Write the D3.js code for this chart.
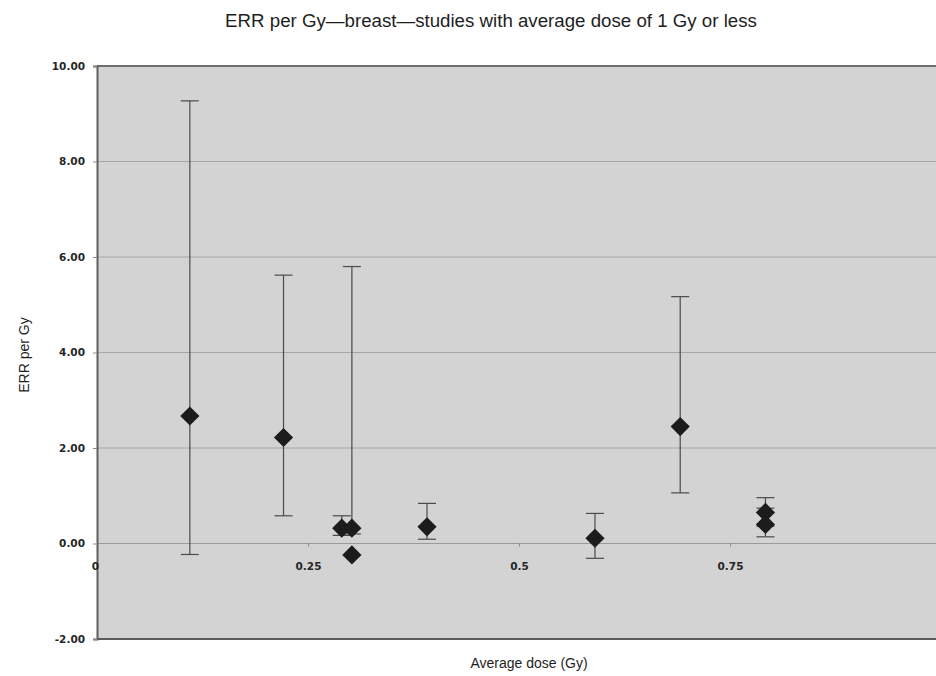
<!DOCTYPE html>
<html>
<head>
<meta charset="utf-8">
<script src="https://cdn.jsdelivr.net/npm/d3@7/dist/d3.min.js"></script>
<style>
  html, body { margin: 0; padding: 0; background: #fff; }
  svg { display: block; }
</style>
</head>
<body>
<svg id="chart" width="936" height="676"></svg>
<script>
// Study average doses (Gy) and excess relative risk per Gy with confidence limits
const doses = [0.110, 0.221, 0.290, 0.302, 0.302, 0.391, 0.590, 0.691, 0.792, 0.792];
const errPerGy = [2.67, 2.22, 0.32, 0.32, -0.24, 0.35, 0.11, 2.45, 0.65, 0.40];
const lowerCI = [-0.23, 0.58, 0.17, 0.20, null, 0.09, -0.31, 1.06, 0.36, 0.14];
const upperCI = [9.27, 5.62, 0.58, 5.80, null, 0.84, 0.63, 5.17, 0.96, 0.74];

const yTicks = [-2, 0, 2, 4, 6, 8, 10];
const xTicks = [0, 0.25, 0.5, 0.75];
const xTickLabels = ["0", "0.25", "0.5", "0.75"];

const titleText = "ERR per Gy\u2014breast\u2014studies with average dose of 1 Gy or less";
const xTitle = "Average dose (Gy)";
const yTitle = "ERR per Gy";

const svg = d3.select("#chart");
const margin = { left: 97, top: 66, right: -5, bottom: 37 };
const W = 936, H = 676;

const x = d3.scaleLinear().domain([0, 1]).range([margin.left, W - margin.right]);
const y = d3.scaleLinear().domain([-2, 10]).range([H - margin.bottom, margin.top]);

// plot background
svg.append("rect")
  .attr("x", x(0)).attr("y", y(10))
  .attr("width", x(1) - x(0)).attr("height", y(-2) - y(10))
  .attr("fill", "#d3d3d3");

// horizontal gridlines
svg.append("g")
  .selectAll("line")
  .data(yTicks.filter(t => t > -2 && t < 10))
  .join("line")
  .attr("x1", x(0)).attr("x2", x(1))
  .attr("y1", d => y(d)).attr("y2", d => y(d))
  .attr("stroke", d => d === 0 ? "#9a9a9a" : "#a6a6a6")
  .attr("stroke-width", 1);

// frame: top, bottom
svg.append("line").attr("x1", x(0)).attr("x2", x(1)).attr("y1", y(10)).attr("y2", y(10))
  .attr("stroke", "#6e6e6e").attr("stroke-width", 2);
svg.append("line").attr("x1", x(0)).attr("x2", x(1)).attr("y1", y(-2)).attr("y2", y(-2))
  .attr("stroke", "#5a5a5a").attr("stroke-width", 2);

// y axis (hyphen used for negative values)
const fmt = d3.format(".2f");
const yAxis = d3.axisLeft(y).tickValues(yTicks)
  .tickFormat(d => fmt(d).replace("\u2212", "-")).tickSize(4).tickPadding(8);
const gy = svg.append("g").attr("transform", `translate(${x(0)},0)`).call(yAxis);
gy.select(".domain").attr("stroke", "#5f5f5f").attr("stroke-width", 2);
gy.selectAll(".tick line").attr("stroke", "#8a8a8a");
gy.selectAll(".tick text")
  .attr("font-family", "DejaVu Sans, sans-serif")
  .attr("font-weight", "bold")
  .attr("font-size", "10.5px")
  .attr("fill", "#262626");

// x axis crossing at zero
const xAxis = d3.axisBottom(x).tickValues(xTicks)
  .tickFormat((d, i) => xTickLabels[i]).tickSize(3).tickPadding(16);
const gx = svg.append("g").attr("transform", `translate(0,${y(0)})`).call(xAxis);
gx.select(".domain").remove();
gx.selectAll(".tick line").attr("stroke", "#8a8a8a");
gx.selectAll(".tick text")
  .attr("font-family", "DejaVu Sans, sans-serif")
  .attr("font-weight", "bold")
  .attr("font-size", "10.5px")
  .attr("fill", "#262626");
gx.selectAll(".tick").filter(d => d === 0).select("line").remove();
gx.selectAll(".tick").filter(d => d === 0).select("text").attr("dx", -2);

// error bars
const rows = doses.map((d, i) => ({ dose: d, err: errPerGy[i], lo: lowerCI[i], hi: upperCI[i] }));
const capHalf = 9;
const eb = svg.append("g").attr("stroke", "#4a4a4a").attr("stroke-width", 1.2);
rows.filter(r => r.lo !== null).forEach(r => {
  const g = eb.append("g");
  g.append("line").attr("x1", x(r.dose)).attr("x2", x(r.dose)).attr("y1", y(r.hi)).attr("y2", y(r.lo));
  g.append("line").attr("x1", x(r.dose) - capHalf).attr("x2", x(r.dose) + capHalf).attr("y1", y(r.hi)).attr("y2", y(r.hi));
  g.append("line").attr("x1", x(r.dose) - capHalf).attr("x2", x(r.dose) + capHalf).attr("y1", y(r.lo)).attr("y2", y(r.lo));
});

// diamond markers
const diamond = d3.symbol().type(d3.symbolSquare).size(185);
svg.append("g")
  .selectAll("path")
  .data(rows)
  .join("path")
  .attr("d", diamond)
  .attr("transform", d => `translate(${x(d.dose)},${y(d.err)}) rotate(45)`)
  .attr("fill", "#1c1c1c");

// titles
svg.append("text")
  .attr("x", 491).attr("y", 27)
  .attr("text-anchor", "middle")
  .attr("font-family", "Liberation Sans, Arial, sans-serif")
  .attr("font-size", "18.7px")
  .attr("fill", "#1e1e1e")
  .text(titleText);

svg.append("text")
  .attr("x", 529).attr("y", 668)
  .attr("text-anchor", "middle")
  .attr("font-family", "Liberation Sans, Arial, sans-serif")
  .attr("font-size", "14px")
  .attr("fill", "#1e1e1e")
  .text(xTitle);

svg.append("text")
  .attr("transform", `translate(29,355) rotate(-90)`)
  .attr("text-anchor", "middle")
  .attr("font-family", "Liberation Sans, Arial, sans-serif")
  .attr("font-size", "14px")
  .attr("fill", "#1e1e1e")
  .text(yTitle);
</script>
</body>
</html>
